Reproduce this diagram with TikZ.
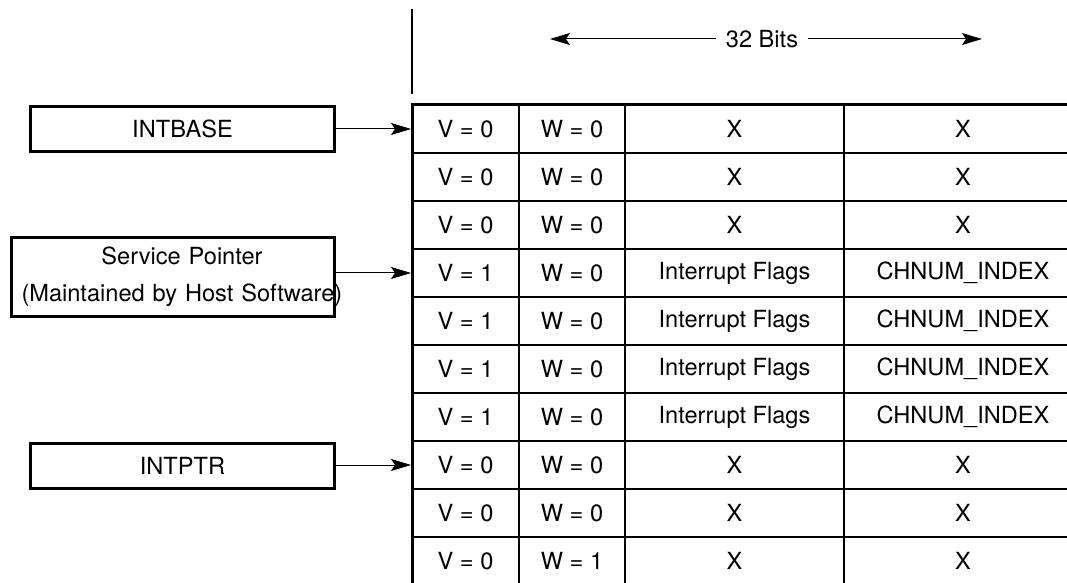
\documentclass[tikz,border=0pt]{standalone}
\usepackage{fontspec}
\setmainfont{TeX Gyre Heros}
\usetikzlibrary{arrows.meta}

\begin{document}
\begin{tikzpicture}[
    x=0.5pt, y=-0.5pt,
    every node/.style={font=\fontsize{11.8}{14}\selectfont},
    regbox/.style={draw, line width=1.5pt, inner sep=0pt, minimum width=152pt, minimum height=22.5pt},
    cell/.style={inner sep=0pt},
    ptr/.style={line width=0.5pt, -{Stealth[length=10pt, width=6pt, inset=2pt]}},
    cellline/.style={line width=0.6pt}
]
    \useasboundingbox (0,0) rectangle (1067,583);

    % --- TOP (width marker) ---

    % Divider above the table
    \coordinate (divtop) at (412,9);
    \coordinate (divbot) at (412,94);
    \draw[line width=0.6pt] (divtop) -- (divbot);

    % 32 bit span
    \node[inner sep=5pt] (bits) at (762,39) {32 Bits};
    \coordinate (bitsL) at (550,39);   % left tip
    \coordinate (bitsR) at (982,39);   % right tip
    \draw[ptr] (bits.west) -- (bitsL);
    \draw[ptr] (bits.east) -- (bitsR);

    % --- TABLE ---

    % Corners (right and bottom run off the page)
    \coordinate (tl) at (412,105);
    \coordinate (tr) at (1067,105);
    \coordinate (bl) at (412,583);

    % Outer border
    \draw[line width=1.5pt] (bl) -- (tl) -- (tr);

    % Column lines
    \draw[cellline] (519,105) -- (519,583);
    \draw[cellline] (625,105) -- (625,583);
    \draw[cellline] (844,105) -- (844,583);

    % Row lines
    \draw[cellline] (412,153) -- (1067,153);
    \draw[cellline] (412,201) -- (1067,201);
    \draw[cellline] (412,249) -- (1067,249);
    \draw[cellline] (412,297) -- (1067,297);
    \draw[cellline] (412,345) -- (1067,345);
    \draw[cellline] (412,393) -- (1067,393);
    \draw[cellline] (412,441) -- (1067,441);
    \draw[cellline] (412,489) -- (1067,489);
    \draw[cellline] (412,537) -- (1067,537);

    % Entries
    \node[cell] (v0) at (465.5,129) {V = 0};
    \node[cell] (w0) at (572,129) {W = 0};
    \node[cell] (f0) at (734.5,129) {X};
    \node[cell] (c0) at (963,129) {X};

    \node[cell] (v1) at (465.5,177) {V = 0};
    \node[cell] (w1) at (572,177) {W = 0};
    \node[cell] (f1) at (734.5,177) {X};
    \node[cell] (c1) at (963,177) {X};

    \node[cell] (v2) at (465.5,225) {V = 0};
    \node[cell] (w2) at (572,225) {W = 0};
    \node[cell] (f2) at (734.5,225) {X};
    \node[cell] (c2) at (963,225) {X};

    \node[cell] (v3) at (465.5,273) {V = 1};
    \node[cell] (w3) at (572,273) {W = 0};
    \node[cell] (f3) at (734.5,273) {Interrupt Flags};
    \node[cell] (c3) at (963,273) {CHNUM\_INDEX};

    \node[cell] (v4) at (465.5,321) {V = 1};
    \node[cell] (w4) at (572,321) {W = 0};
    \node[cell] (f4) at (734.5,321) {Interrupt Flags};
    \node[cell] (c4) at (963,321) {CHNUM\_INDEX};

    \node[cell] (v5) at (465.5,369) {V = 1};
    \node[cell] (w5) at (572,369) {W = 0};
    \node[cell] (f5) at (734.5,369) {Interrupt Flags};
    \node[cell] (c5) at (963,369) {CHNUM\_INDEX};

    \node[cell] (v6) at (465.5,417) {V = 1};
    \node[cell] (w6) at (572,417) {W = 0};
    \node[cell] (f6) at (734.5,417) {Interrupt Flags};
    \node[cell] (c6) at (963,417) {CHNUM\_INDEX};

    \node[cell] (v7) at (465.5,465) {V = 0};
    \node[cell] (w7) at (572,465) {W = 0};
    \node[cell] (f7) at (734.5,465) {X};
    \node[cell] (c7) at (963,465) {X};

    \node[cell] (v8) at (465.5,513) {V = 0};
    \node[cell] (w8) at (572,513) {W = 0};
    \node[cell] (f8) at (734.5,513) {X};
    \node[cell] (c8) at (963,513) {X};

    \node[cell] (v9) at (465.5,561) {V = 0};
    \node[cell] (w9) at (572,561) {W = 1};
    \node[cell] (f9) at (734.5,561) {X};
    \node[cell] (c9) at (963,561) {X};

    % Arrow targets on the left border
    \coordinate (row0) at (411,129);
    \coordinate (row3) at (411,273);
    \coordinate (row7) at (411,465);

    % --- POINTER REGISTERS ---

    \node[regbox] (intbase) at (182.5,129) {INTBASE};
    % text runs past the right border, as in the original
    \node[regbox, text width=161.5pt, minimum height=39.5pt, align=center,
          font=\fontsize{11.8}{18.5}\selectfont] (svc) at (173,277)
          {\hspace*{9pt}Service Pointer\\\hspace*{5pt}\mbox{(Maintained by Host Software)}};
    \node[regbox] (intptr) at (182.5,466) {INTPTR};

    \draw[ptr] (intbase.east |- row0) -- (row0);
    \draw[ptr] (svc.east |- row3) -- (row3);
    \draw[ptr] (intptr.east |- row7) -- (row7);

\end{tikzpicture}
\end{document}
